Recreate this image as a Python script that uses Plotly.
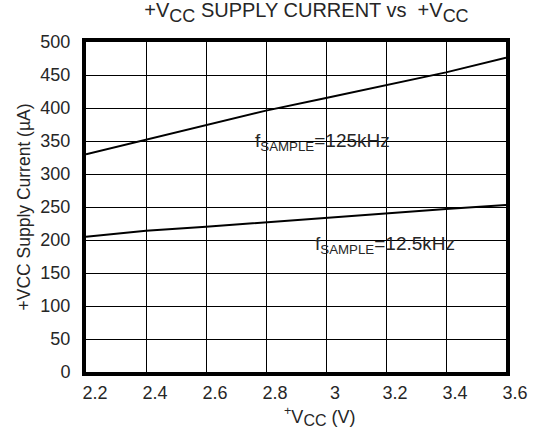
import plotly.graph_objects as go

vcc = [2.2, 2.4, 2.6, 2.8, 3.0, 3.2, 3.4, 3.6]
i_125k = [330, 352, 374, 396, 415, 434, 454, 476]
i_12k5 = [205, 214, 220, 227, 234, 240, 247, 253]

x_ticks = [2.2, 2.4, 2.6, 2.8, 3.0, 3.2, 3.4, 3.6]
x_labels = ["2.2", "2.4", "2.6", "2.8", "3", "3.2", "3.4", "3.6"]
y_ticks = [0, 50, 100, 150, 200, 250, 300, 350, 400, 450, 500]

FONT = "Liberation Sans, Arial, sans-serif"
TXT = "#262626"

fig = go.Figure()
fig.add_trace(go.Scatter(x=vcc, y=i_125k, mode="lines",
                         line=dict(color="black", width=2), showlegend=False))
fig.add_trace(go.Scatter(x=vcc, y=i_12k5, mode="lines",
                         line=dict(color="black", width=2), showlegend=False))

fig.add_annotation(x=2.757, y=348, xanchor="left", yanchor="middle",
                   text="f<sub>SAMPLE</sub>=125kHz", showarrow=False,
                   font=dict(family=FONT, size=19, color=TXT))
fig.add_annotation(x=2.957, y=192, xanchor="left", yanchor="middle",
                   text="f<sub>SAMPLE</sub>=12.5kHz", showarrow=False,
                   font=dict(family=FONT, size=19, color=TXT))

# x-axis title placed as annotation (offset right like the reference)
fig.add_annotation(x=0.557, y=-0.092, xref="paper", yref="paper",
                   xanchor="center", yanchor="top", showarrow=False,
                   text="<sup>+</sup>V<sub><span style='font-size:16px'>CC</span></sub> (V)",
                   font=dict(family=FONT, size=18, color=TXT))

fig.update_layout(
    width=533, height=432,
    margin=dict(l=86, r=27, t=42, b=60),
    paper_bgcolor="white", plot_bgcolor="white",
    font=dict(family=FONT, size=18, color=TXT),
    title=dict(text="+V<sub><span style='font-size:18px'>CC</span></sub> SUPPLY CURRENT vs  +V<sub><span style='font-size:18px'>CC</span></sub>",
               x=0.575, xanchor="center", y=0.992, yanchor="top",
               font=dict(family=FONT, size=20, color=TXT)),
)
fig.update_xaxes(range=[2.2, 3.6], tickvals=x_ticks, ticktext=x_labels,
                 showgrid=True, gridcolor="black", gridwidth=1,
                 showline=True, linecolor="black", linewidth=4, mirror=True,
                 ticks="", zeroline=False, ticklabelstandoff=1, ticklabelshift=9,
                 automargin=False,
                 tickfont=dict(family=FONT, size=18, color=TXT))
fig.update_yaxes(range=[0, 500], tickvals=y_ticks,
                 showgrid=True, gridcolor="black", gridwidth=1,
                 showline=True, linecolor="black", linewidth=4, mirror=True,
                 ticks="", zeroline=False, ticklabelstandoff=8,
                 automargin=False,
                 tickfont=dict(family=FONT, size=18, color=TXT),
                 title=dict(text="+VCC Supply Current (µA)", standoff=6,
                            font=dict(family=FONT, size=17.5, color=TXT)))

fig.write_html("out.html")
